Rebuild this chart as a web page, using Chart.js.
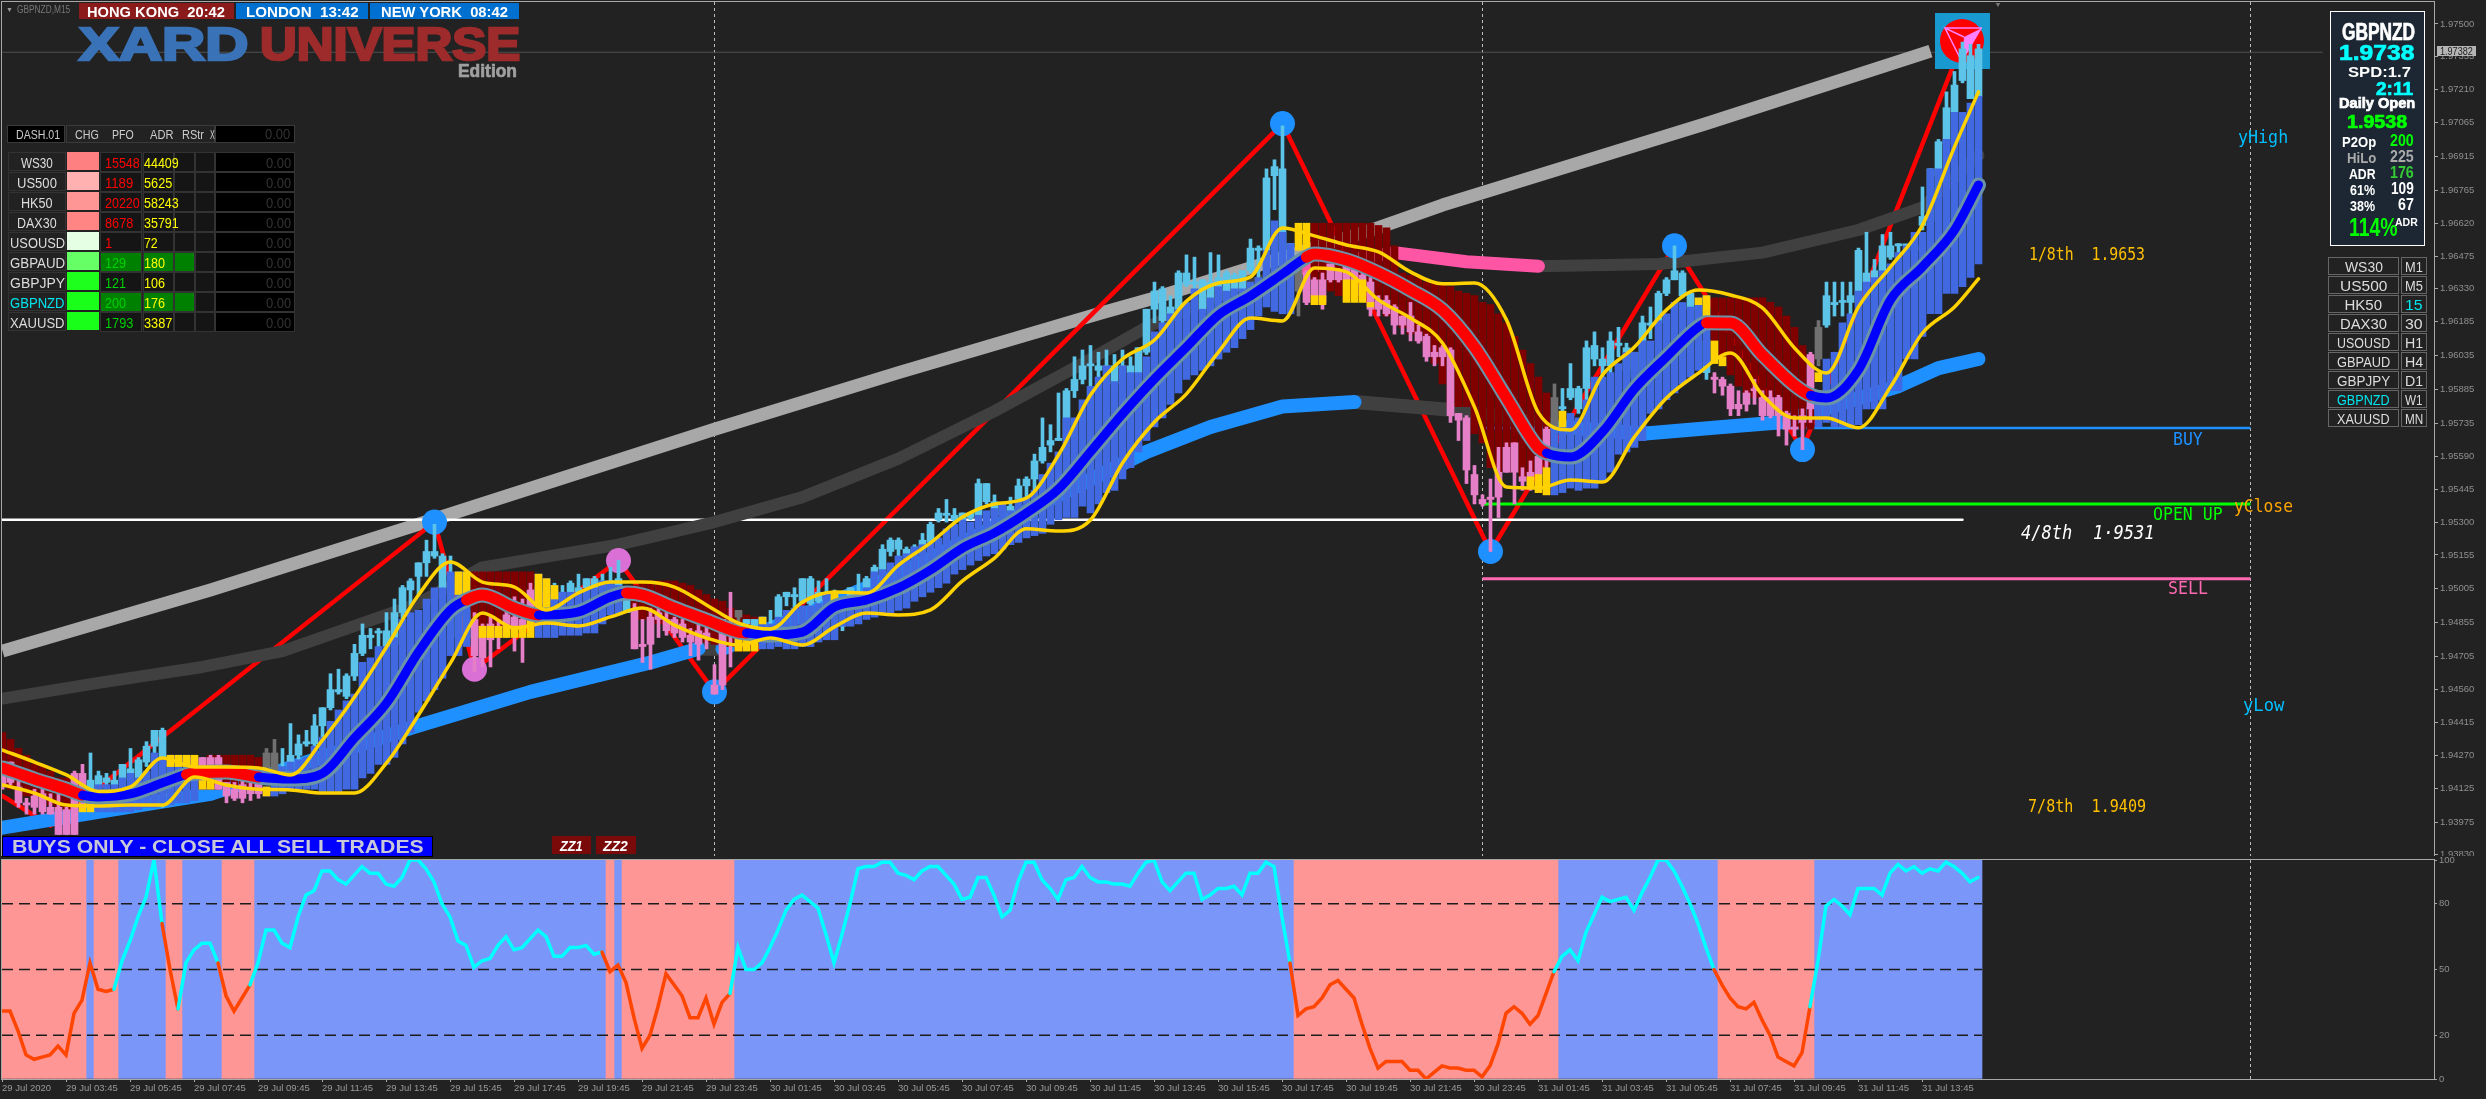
<!DOCTYPE html>
<html>
<head>
<meta charset="utf-8">
<title>GBPNZD M15</title>
<script src="https://cdn.jsdelivr.net/npm/chart.js@4/dist/chart.umd.min.js"></script>
<style>
  body { margin: 0; width: 2486px; height: 1099px; overflow: hidden; background: #222; font-family: 'Liberation Sans', sans-serif; }
  canvas { position: absolute; left: 0; }
  #overlay { position: absolute; left: 0; top: 0; width: 2486px; height: 1099px; }
  #overlay div, #overlay span { position: absolute; white-space: pre; box-sizing: border-box; }
</style>
</head>
<body>
<canvas id="mainChart" width="2486" height="856" style="top:0"></canvas>
<canvas id="oscChart" width="2486" height="243" style="top:856px"></canvas>
<div id="overlay"></div>
<script>
// Prices are kept in pips above 1.9000, so 653 is 1.9653. One bar per 15 minutes.
const bodyTop = [
  419,424,413,406,409,410,404,404,403,419, 419,416,418,417,416,423,421,425,431,438,
  438,417,418,420,426,426,426,426,415,412, 414,412,415,428,428,420,427,432,433,440,
  448,456,456,462,472,480,480,481,482,490, 501,504,512,517,517,515,503,501,491,487,
  484,485,482,489,488,487,500,501,499,498, 499,503,501,505,505,504,504,505,501,491,
  476,488,490,487,487,485,480,482,481,458, 487,485,491,487,487,488,484,497,499,498,
  505,505,499,499,499,493,501,499,505,510, 518,522,522,518,519,522,529,534,533,533,
  534,534,547,547,539,537,537,546,549,557, 563,566,567,588,593,599,599,599,599,599,
  599,599,607,624,632,633,625,640,640,636, 637,636,638,640,639,641,651,651,682,687,
  686,653,647,640,637,637,644,641,643,642, 639,636,628,628,625,621,621,614,612,605,
  607,606,578,576,551,540,541,552,563,565, 550,552,559,571,585,581,589,589,607,608,
  602,610,609,607,605,618,617,631,637,641, 640,631,625,610,594,593,590,582,587,588,
  585,585,585,578,572,577,604,616,630,627, 627,630,650,640,641,652,652,652,652,652,
  665,686,698,713,723,739,736,739];
const bodyBottom = [
  413,415,406,405,404,402,401,392,392,392, 411,412,412,415,414,416,419,415,424,431,
  409,409,415,418,415,422,420,412,409,408, 408,410,410,421,420,412,418,427,432,432,
  440,448,455,453,462,472,479,481,475,476, 490,500,506,512,515,501,501,479,479,471,
  470,478,479,483,483,483,487,487,494,495, 496,499,499,501,501,499,495,499,490,474,
  475,476,487,482,481,479,477,476,479,454, 458,482,488,485,484,484,483,488,497,497,
  495,494,495,493,497,484,493,496,497,505, 509,517,518,514,515,519,521,531,533,531,
  531,532,533,539,533,533,534,539,546,549, 557,564,566,567,588,593,599,597,598,591,
  598,596,596,605,624,619,619,624,635,635, 624,622,632,628,632,632,641,650,650,683,
  643,647,632,627,630,627,637,637,637,637, 630,624,624,622,617,617,614,610,603,603,
  603,577,575,553,542,538,540,541,552,552, 548,546,551,560,571,580,585,580,589,602,
  599,599,608,597,594,593,617,618,631,637, 630,624,619,596,593,590,580,580,582,588,
  577,577,577,571,571,574,580,602,617,626, 627,627,627,636,636,641,647,652,652,650,
  661,663,683,697,711,725,717,718];
const wickTop = [
  423,424,416,408,412,412,410,412,404,420, 423,428,420,419,420,423,430,426,433,438,
  439,425,420,422,426,426,427,427,415,415, 417,415,418,430,434,430,441,436,438,445,
  448,463,465,463,476,485,483,483,490,496, 502,505,512,522,529,516,515,502,492,490,
  485,489,487,493,497,496,503,501,504,503, 502,504,507,505,506,507,510,513,501,494,
  487,492,492,491,488,487,483,485,485,467, 487,499,491,487,487,488,491,498,499,501,
  505,506,504,505,500,493,501,507,506,511, 520,523,523,519,520,525,530,536,540,536,
  534,534,549,547,542,537,541,549,550,560, 576,573,587,589,603,606,608,605,606,604,
  606,603,607,624,636,634,630,641,648,647, 637,649,648,641,640,641,655,652,686,690,
  705,653,648,641,638,640,644,642,644,643, 640,638,630,630,626,621,627,617,613,608,
  608,607,578,577,555,542,549,563,565,565, 554,557,560,572,591,589,600,590,610,614,
  607,614,616,609,605,621,625,632,638,652, 641,632,626,610,596,594,591,588,588,593,
  588,588,586,579,577,580,605,619,636,636, 636,636,651,658,646,657,658,653,652,652,
  678,686,699,720,729,742,741,741];
const wickBottom = [
  412,414,404,401,401,401,401,392,392,392, 404,410,409,410,410,412,417,409,422,426,
  404,405,410,415,415,417,417,412,406,407, 406,407,408,419,418,410,418,425,431,431,
  435,447,454,452,460,471,474,465,474,475, 485,493,498,506,514,501,501,476,479,464,
  466,466,474,479,473,468,481,485,493,494, 491,496,495,496,499,493,489,493,490,474,
  468,465,479,480,479,477,471,469,474,454, 456,466,482,482,479,482,482,487,493,492,
  494,493,490,484,494,482,492,495,496,504, 509,515,515,513,515,518,521,530,530,530,
  531,531,532,538,532,532,533,538,537,543, 556,561,566,566,585,591,590,590,597,591,
  593,589,595,604,618,618,618,623,634,631, 623,621,632,619,614,632,640,631,649,668,
  641,630,621,626,630,624,636,636,636,636, 629,621,621,621,613,613,610,609,601,599,
  599,574,566,547,538,537,517,532,552,538, 544,544,546,552,566,574,584,578,571,599,
  588,594,603,594,593,593,611,617,630,637, 629,622,618,593,587,586,577,577,579,582,
  575,576,568,564,568,562,574,599,616,621, 621,621,627,634,635,640,646,639,641,642,
  659,663,683,697,710,724,717,717];
const pinkCandles = [[0,10],[24,32],[59,68],[79,91],[163,193],[214,226]];
const grayCandles = [33,34,92,162,194,227];

const histTop = [
  437,434,430,427,423,422,420,417,417,416, 406,406,414,414,414,417,419,417,420,428,
  426,427,427,427,426,426,427,427,427,427, 427,427,426,413,415,422,424,425,426,431,
  435,442,447,451,454,468,470,475,475,479, 487,490,491,496,501,501,508,508,508,508,
  508,508,508,508,508,508,508,507,505,502, 499,499,499,500,501,504,503,502,500,502,
  504,504,504,504,504,503,502,500,498,496, 495,492,491,489,488,488,485,488,491,492,
  493,493,494,499,499,496,497,499,501,508, 509,512,515,516,519,520,521,523,527,529,
  531,530,533,535,536,538,535,540,541,544, 551,556,561,576,576,584,590,594,599,592,
  599,596,596,603,614,618,622,624,627,633, 624,629,634,632,633,633,636,638,650,663,
  658,653,662,662,662,662,662,662,662,662, 662,662,661,660,652,640,639,638,636,636,
  635,634,632,631,630,627,626,622,618,612, 606,600,594,587,572,572,578,576,584,594,
  594,596,600,605,605,610,610,619,622,627, 627,625,629,630,629,629,629,629,629,629,
  629,627,625,621,616,608,604,587,602,605, 618,622,632,636,638,641,644,649,652,658,
  658,686,686,699,711,711,715,718];
const histBottom = [
  413,412,410,409,408,407,405,404,403,402, 402,402,402,402,402,402,402,403,404,404,
  405,405,406,406,407,412,412,412,413,413, 413,413,414,409,409,410,412,412,412,412,
  411,411,411,412,412,417,419,423,423,426, 432,437,446,451,456,461,471,471,475,484,
  484,484,484,484,484,484,487,479,479,479, 480,480,480,481,481,485,489,489,496,487,
  487,486,485,484,481,480,479,478,477,476, 475,475,473,474,474,474,474,475,474,474,
  475,475,477,478,478,484,484,485,487,488, 489,490,491,492,495,497,499,501,503,507,
  509,511,513,515,516,518,520,521,523,524, 525,529,531,532,532,537,534,538,543,544,
  549,554,561,566,572,576,582,587,593,595, 597,599,602,605,607,611,615,621,625,623,
  622,622,650,650,637,635,632,630,629,629, 628,626,624,621,619,616,613,610,606,600,
  591,581,581,581,569,565,554,552,553,552, 550,550,552,555,542,543,545,544,545,545,
  548,552,560,561,563,566,578,580,584,587, 591,594,597,599,603,603,595,590,587,585,
  581,581,578,574,572,571,571,572,574,572, 572,572,573,580,580,580,588,588,602,602,
  612,622,622,631,631,634,638,644];
const redHistBars = [[0,9],[25,32],[59,66],[79,94],[164,193],[214,226]];
const yellowHistBars = [10,11,162,163];

// short yellow pieces that sit at the ends of the bars
const yellowBars = [21,22,23,24,25,26,33,57,58,60,61,62,63,64,65,66,67,68,69,92,93,94,95,104,164,165,168,169,170,171,191,192,193,195,212,213,214,215,227];
const yellowTop = [427,427,427,427,417,417,413,508,508,484,484,484,484,484,484,487,507,505,502,479,479,479,488,499,630,630,637,637,637,627,550,551,554,579,629,630,610,603,596];
const yellowBottom = [422,422,422,422,412,412,409,498,498,479,479,479,479,479,479,479,492,492,496,473,473,473,485,494,626,626,627,627,627,625,545,543,542,572,626,621,600,599,592];

const bandBars = [0,4,8,12,16,20,24,28,32,36,40,44,48,52,56,60,64,68,72,76,80,84,88,92,96,100,104,108,112,116,120,124,128,132,136,140,144,148,152,156,160,164,168,172,176,180,184,188,192,196,200,204,208,212,216,220,224,228,232,236,240,244,247];
const bandUpper = [429.3,424,418.3,411,413,425.8,421.8,421.8,421.4,418.3,433.7,452.7,474.8,497.8,512.4,503.5,501.3,491.2,498.7,503.5,503.5,501.3,493.4,485.4,482.8,494.7,499.1,498.7,511,520.8,532.2,538,540.6,559.6,586.1,602,610.4,627.6,635.6,638.3,659.9,656.4,652.4,649.3,640.5,635.2,635.6,619.3,578.2,570.7,595,607.3,623.7,632.5,630.3,624.6,606.9,595.8,625,642.7,661.2,695.7,720];
const bandLower = [413.9,410.3,405,404.6,405,405,417.4,413.9,412,411.7,410.3,410.3,423.6,444.8,467.8,489.8,483.2,485.4,484.1,488.1,492,484.5,478.8,475.7,478.8,475.7,483.7,489.8,489,491.2,504,514.1,527,526,530.9,556.1,574.2,586.6,605.1,620.1,618.8,642.2,640.5,628.1,620.1,609.1,580.8,545.5,545,548.6,547.7,567.6,584.8,595.8,604.7,586.1,576,576,571.6,589.7,613.5,625,637.4];

const midBars = [0,4,8,10,12,16,20,23,24,28,32,36,40,44,48,52,56,58,60,64,67,68,72,76,78,80,84,88,92,93,96,100,104,108,112,116,120,124,128,132,136,140,144,148,152,156,160,163,164,168,172,176,180,184,188,192,193,196,200,204,208,212,213,216,220,224,226,228,232,236,240,244,247];
const midValues = [421.4,416.5,412,409.4,408.6,409.9,414.8,418.5,419,419.6,417.4,416.5,419,434.6,450,472.6,491.2,495.6,497.8,492,489,489,490.3,496.9,498.7,497.8,492,486.7,481.4,481,480.1,481.4,492.5,495.6,500.9,508.8,518.5,525.2,534,544.6,561,577.7,593.2,607.3,621.5,629.9,639.6,647,648.4,645.8,640,632.5,623.7,607.3,584.8,562.7,560.5,558.7,569.8,588.8,602.9,616.2,618,617.9,603.8,590.5,586,584.8,597.2,628.1,642.7,659,678.9];
const midRedRuns = [[0,10],[23,32],[58,67],[78,93],[163,193],[213,226]];

// slow averages
const slowGrayBars = [0,26,52,89,112,137,144,172,180,213,241];
const slowGrayValues = [473,500,529,571,596,622,629,660,670,706,738];
const midGrayBars = [0,12,25,35,52,60,77,89,100,112,124,135,143,152,162];
const midGrayValues = [452,459,466,473,494,510,520,530,541,558,579,600,616,630,642];
const midPinkBars = [162,174,183,192];
const midPinkValues = [642,649,645,643];
const midGray2Bars = [192,207,220,232,240,247];
const midGray2Values = [643,644,649,659,669,692];
const fastBlueBars = [0,12,26,51,66,81,87];
const fastBlueValues = [395,402,410,439,455,468,474];
const fastGrayBars = [87,90];
const fastGrayValues = [474,474];
const fastBlue2Bars = [90,112,135,143,151,160,169];
const fastBlue2Values = [474,507,547,561,572,581,583];
const fastGray2Bars = [169,183,195];
const fastGray2Values = [583,579,572];
const fastBlue3Bars = [195,205,215,222,237,242,247];
const fastBlue3Values = [572,569,572,574,590,598,602];

const zigzagBars = [0,6,54,59,77,89,160,186,209,225,245];
const zigzagValues = [409,396,530,465,513,455,706,517,652,562,742];
const blueDotBars = [54,89,160,186,209,225];
const blueDotValues = [530,455,706,517,652,562];
const pinkDotBars = [59,77];
const pinkDotValues = [465,513];

const priceLine = 737.5;
const fourEighthLine = 531;
const buyLine = 571.5;
const openLine = 538;
const sellLine = 505;
const separatorBars = [89,185,281];

const priceTicks = ['1.97500','1.97355','1.97210','1.97065','1.96915','1.96765','1.96620','1.96475','1.96330','1.96185','1.96035','1.95885','1.95735','1.95590','1.95445','1.95300','1.95155','1.95005','1.94855','1.94705','1.94560','1.94415','1.94270','1.94125','1.93975','1.93830'];

// lower window
const oscValues = [
  31,31,22,11,9,10,11,15,11,30, 36,53,41,40,41,54,63,74,83,100,
  71,50,32,53,59,62,62,53,38,31, 37,43,53,68,68,62,60,74,84,86,
  95,95,91,89,93,97,94,94,89,88, 92,100,100,96,90,80,74,63,61,51,
  54,55,61,65,59,60,64,68,65,56, 56,60,60,61,57,58,49,52,44,28,
  14,20,33,48,43,38,28,28,37,25, 35,39,60,50,50,53,60,68,77,82,
  84,81,78,66,53,66,80,96,97,97, 99,99,94,93,91,95,97,97,93,89,
  82,83,92,92,84,74,77,90,99,99, 91,87,82,91,92,97,92,90,90,89,
  89,88,94,99,100,90,86,90,94,94, 82,84,87,87,88,84,94,94,99,97,
  74,53,29,32,33,37,43,45,41,37, 25,14,5,8,8,8,4,4,0,3,
  6,5,5,4,4,1,6,16,30,33, 30,25,29,39,49,56,59,54,67,75,
  83,81,82,83,77,85,92,100,100,95, 88,80,71,60,50,43,37,33,32,35,
  27,20,10,8,6,12,33,54,79,82, 79,75,87,87,87,84,94,98,95,97,
  94,96,95,99,97,94,90,92];
const oscRedRuns = [[0,10],[11,14],[20,22],[27,31],[75,76],[77,91],[161,194],[214,226]];
const zoneRedRuns = [[0,10],[12,14],[21,22],[28,31],[76,76],[78,91],[162,194],[215,226]];
const oscLevels = [80,50,20];
const oscTicks = [100,80,50,20,0];

const timeBars = [0,8,16,24,32,40,48,56,64,72,80,88,96,104,112,120,128,136,144,152,160,168,176,184,192,200,208,216,224,232,240];
const timeLabels = ['29 Jul 2020','29 Jul 03:45','29 Jul 05:45','29 Jul 07:45','29 Jul 09:45','29 Jul 11:45','29 Jul 13:45','29 Jul 15:45','29 Jul 17:45','29 Jul 19:45','29 Jul 21:45','29 Jul 23:45','30 Jul 01:45','30 Jul 03:45','30 Jul 05:45','30 Jul 07:45','30 Jul 09:45','30 Jul 11:45','30 Jul 13:45','30 Jul 15:45','30 Jul 17:45','30 Jul 19:45','30 Jul 21:45','30 Jul 23:45','31 Jul 01:45','31 Jul 03:45','31 Jul 05:45','31 Jul 07:45','31 Jul 09:45','31 Jul 11:45','31 Jul 13:45'];

// dashboard tables
const dashSymbols = ['WS30','US500','HK50','DAX30','USOUSD','GBPAUD','GBPJPY','GBPNZD','XAUUSD'];
const dashPfo = ['15548','1189','20220','8678','1','129','121','200','1793'];
const dashAdr = ['44409','5625','58243','35791','72','180','106','176','3387'];
const dashSwatch = ['#ff8080','#ffb0b0','#ff9696','#ff8585','#e4ffe4','#66ff66','#1eff1e','#1aff1a','#1aff1a'];
const tfLabels = ['M1','M5','15','30','H1','H4','D1','W1','MN'];

const AXIS_FONT = "'Liberation Sans', sans-serif";
const UP = '#5bc4e8', DOWN = '#e57fc8', FLAT = '#707070';
const HIST_BLUE = '#4169e1', HIST_RED = '#800000', GOLD = '#ffd200';

function inRuns(i, runs) {
  return runs.some(r => i >= r[0] && i <= r[1]);
}

function points(bars, values) {
  return bars.map((x, i) => ({ x: x, y: values[i] }));
}

function lineSet(data, color, width, order, extra) {
  return Object.assign({
    type: 'line', data: data, borderColor: color, borderWidth: width, order: order,
    pointRadius: 0, fill: false, borderCapStyle: 'round', borderJoinStyle: 'round'
  }, extra || {});
}

function barSet(data, colors, width, order) {
  return {
    type: 'bar', data: data, backgroundColor: colors, order: order, grouped: false,
    barThickness: width, maxBarThickness: width, borderWidth: 0, minBarLength: 2
  };
}

function dotSet(data, color, radius, order, style) {
  return {
    type: 'line', data: data, showLine: false, order: order, pointRadius: radius,
    pointBackgroundColor: color, pointBorderWidth: 0, pointStyle: style || 'circle', clip: false
  };
}

function candleColor(i) {
  if (grayCandles.includes(i)) return FLAT;
  return inRuns(i, pinkCandles) ? DOWN : UP;
}

function buildLogo() {
  const c = document.createElement('canvas');
  c.width = 55; c.height = 56;
  const g = c.getContext('2d');
  g.fillStyle = '#189ad0'; g.fillRect(0, 0, 55, 56);
  g.fillStyle = '#ff0000'; g.beginPath(); g.arc(27, 28, 22, 0, Math.PI * 2); g.fill();
  g.fillStyle = '#ff80ff'; g.beginPath(); g.moveTo(47, 15); g.lineTo(27, 49); g.lineTo(29, 24); g.fill();
  g.strokeStyle = '#ff80ff'; g.lineWidth = 1.5; g.beginPath();
  g.moveTo(29, 24); g.lineTo(10, 15); g.lineTo(27, 49); g.moveTo(10, 15); g.lineTo(47, 15); g.stroke();
  return c;
}

// the axis boxes would otherwise push the plot in by half a label
function fixAxisWidth(s) {
  s.width = 52;
  s.paddingTop = 0;
  s.paddingBottom = 0;
}

// dotted day separators behind the marks, frame on top of them
const chromePlugin = {
  id: 'chrome',
  beforeDatasetsDraw(chart) {
    const { ctx, chartArea, scales } = chart;
    ctx.save();
    ctx.strokeStyle = '#bdbdbd'; ctx.lineWidth = 1; ctx.setLineDash([3, 3]);
    separatorBars.forEach(b => {
      const x = Math.round(scales.x.getPixelForValue(b)) + 0.5;
      ctx.beginPath(); ctx.moveTo(x, chartArea.top); ctx.lineTo(x, chartArea.bottom); ctx.stroke();
    });
    ctx.restore();
  },
  afterDraw(chart) {
    const { ctx, chartArea } = chart;
    ctx.save();
    ctx.strokeStyle = '#a8a8a8'; ctx.lineWidth = 1;
    ctx.strokeRect(chartArea.left - 0.5, chartArea.top - 0.5, chartArea.right - chartArea.left + 1, chartArea.bottom - chartArea.top + 1);
    ctx.restore();
  }
};

function createMainChart() {
  const allBars = bodyTop.map((v, i) => i);
  const monotone = { cubicInterpolationMode: 'monotone' };
  const backHist = allBars.filter(i => inRuns(i, redHistBars) || yellowHistBars.includes(i));
  const blueHist = allBars.filter(i => !backHist.includes(i));

  new Chart(document.getElementById('mainChart'), {
    data: {
      datasets: [
        lineSet(points([0, 290], [priceLine, priceLine]), '#505050', 1, 40),
        lineSet(points(slowGrayBars, slowGrayValues), '#a8a8a8', 13, 30, { borderCapStyle: 'butt' }),
        lineSet(points(zigzagBars, zigzagValues), '#ff0000', 4.5, 29, { borderJoinStyle: 'miter' }),
        lineSet(points([0, 245], [fourEighthLine, fourEighthLine]), '#ffffff', 2.5, 28),
        lineSet(points(midGrayBars, midGrayValues), '#404040', 12, 27),
        lineSet(points(midGray2Bars, midGray2Values), '#404040', 12, 27),
        lineSet(points(midPinkBars, midPinkValues), '#ff55a5', 13, 26),
        lineSet(points(fastGrayBars, fastGrayValues), '#404040', 14, 25),
        lineSet(points(fastGray2Bars, fastGray2Values), '#404040', 14, 25),
        lineSet(points(fastBlueBars, fastBlueValues), '#1e90ff', 14, 24),
        lineSet(points(fastBlue2Bars, fastBlue2Values), '#1e90ff', 14, 24),
        lineSet(points(fastBlue3Bars, fastBlue3Values), '#1e90ff', 14, 24),
        lineSet(points([185, 281], [buyLine, buyLine]), '#1e90ff', 2.5, 23, { borderCapStyle: 'butt' }),
        lineSet(points([185, 281], [openLine, openLine]), '#00ff00', 3, 23, { borderCapStyle: 'butt' }),
        lineSet(points([185, 281], [sellLine, sellLine]), '#ff69b4', 3, 23, { borderCapStyle: 'butt' }),
        dotSet(points(blueDotBars, blueDotValues), '#1e90ff', 12.5, 22),
        dotSet(points(pinkDotBars, pinkDotValues), '#da70d6', 12.5, 22),
        dotSet(points([245], [742.5]), '#ffffff', 20, 21, buildLogo()),
        barSet(backHist.map(i => ({ x: i, y: [histBottom[i], histTop[i]] })),
          backHist.map(i => yellowHistBars.includes(i) ? GOLD : HIST_RED), 7, 12),
        barSet(allBars.map(i => ({ x: i, y: [wickBottom[i], wickTop[i]] })), allBars.map(candleColor), 3, 11),
        barSet(allBars.map(i => ({ x: i, y: [bodyBottom[i], bodyTop[i]] })), allBars.map(candleColor), 7, 10),
        barSet(blueHist.map(i => ({ x: i, y: [histBottom[i], histTop[i]] })), HIST_BLUE, 7, 9),
        barSet(yellowBars.map((b, i) => ({ x: b, y: [yellowBottom[i], yellowTop[i]] })), GOLD, 7, 8),
        lineSet(points(midBars, midValues), '#6b93a8', 15, 7, monotone),
        lineSet(points(midBars, midValues), '#0000ff', 9, 6, Object.assign({
          segment: {
            borderColor: c => inRuns(c.p0.parsed.x, midRedRuns) && inRuns(c.p1.parsed.x, midRedRuns) ? '#ff0000' : '#0000ff',
            borderWidth: c => inRuns(c.p0.parsed.x, midRedRuns) && inRuns(c.p1.parsed.x, midRedRuns) ? 11 : 9
          }
        }, monotone)),
        lineSet(points(bandBars, bandUpper), GOLD, 3.5, 5, monotone),
        lineSet(points(bandBars, bandLower), GOLD, 3.5, 5, monotone)
      ]
    },
    options: {
      responsive: false, animation: false, devicePixelRatio: 1, events: [],
      layout: { autoPadding: false, padding: { left: 2, top: 2, right: 0, bottom: 0 } },
      plugins: { legend: { display: false }, tooltip: { enabled: false } },
      scales: {
        x: { type: 'linear', min: -0.0625, max: 303.94, offset: false, display: false, grid: { display: false } },
        y: {
          position: 'right', min: 382.5, max: 759.7,
          afterFit: fixAxisWidth,
          afterBuildTicks: s => { s.ticks = priceTicks.map(t => ({ value: (parseFloat(t) - 1.9) * 1e4 })); },
          border: { color: '#a8a8a8' },
          grid: { drawOnChartArea: false, color: '#a8a8a8', tickLength: 4 },
          ticks: {
            autoSkip: false, padding: 2, color: '#8f8f8f', font: { family: AXIS_FONT, size: 9.5 },
            callback: v => (1.9 + v / 1e4).toFixed(5)
          }
        }
      }
    },
    plugins: [chromePlugin]
  });
}

function createOscChart() {
  const allBars = oscValues.map((v, i) => i);
  const red = allBars.filter(i => inRuns(i, zoneRedRuns));
  const blue = allBars.filter(i => !inRuns(i, zoneRedRuns));
  const levels = oscLevels.map(l => lineSet(points([0, 247.5], [l, l]), '#1c1c1c', 1.5, 3, { borderDash: [11, 6], borderCapStyle: 'butt' }));

  new Chart(document.getElementById('oscChart'), {
    data: {
      datasets: [
        barSet(red.map(i => ({ x: i, y: [0, 100] })), '#fe9696', 8, 10),
        barSet(blue.map(i => ({ x: i, y: [0, 100] })), '#7a96f8', 8, 10),
        ...levels,
        lineSet(points(allBars, oscValues), '#00ffff', 3.5, 1, {
          borderJoinStyle: 'miter',
          segment: { borderColor: c => inRuns(c.p0.parsed.x, oscRedRuns) && inRuns(c.p1.parsed.x, oscRedRuns) ? '#ff4500' : '#00ffff' }
        })
      ]
    },
    options: {
      responsive: false, animation: false, devicePixelRatio: 1, events: [],
      layout: { autoPadding: false, padding: { left: 2, top: 4, right: 0, bottom: 0 } },
      plugins: { legend: { display: false }, tooltip: { enabled: false } },
      scales: {
        x: {
          type: 'linear', min: 0, max: 304, offset: false,
          afterFit: s => { s.height = 20; s.paddingLeft = 0; s.paddingRight = 0; },
          afterBuildTicks: s => { s.ticks = timeBars.map(b => ({ value: b })); },
          border: { color: '#a8a8a8' },
          grid: { drawOnChartArea: false, color: '#a8a8a8', tickLength: 3, offset: false },
          ticks: {
            autoSkip: false, maxRotation: 0, align: 'start', padding: 1, color: '#9a9a9a',
            font: { family: AXIS_FONT, size: 9.5 },
            callback: v => timeLabels[timeBars.indexOf(v)]
          }
        },
        y: {
          position: 'right', min: 0, max: 100,
          afterFit: fixAxisWidth,
          afterBuildTicks: s => { s.ticks = oscTicks.map(t => ({ value: t })); },
          border: { color: '#a8a8a8' },
          grid: { drawOnChartArea: false, color: '#a8a8a8', tickLength: 3 },
          ticks: { autoSkip: false, padding: 2, color: '#8f8f8f', font: { family: AXIS_FONT, size: 9.5 } }
        }
      }
    },
    plugins: [chromePlugin]
  });
}

// overlay helpers, every label is squeezed to the width it has in the screenshot
const overlay = document.getElementById('overlay');

function box(x, y, w, h, bg, border) {
  const d = document.createElement('div');
  d.style.cssText = `left:${x}px;top:${y}px;width:${w}px;height:${h}px;background:${bg};` + (border ? `border:1px solid ${border};` : '');
  overlay.appendChild(d);
}

function label(text, x, cy, w, size, color, style) {
  const s = document.createElement('span');
  s.textContent = text;
  s.style.cssText = `left:${x}px;top:${cy}px;font-size:${size}px;color:${color};line-height:1;transform-origin:left center;` + (style || '');
  overlay.appendChild(s);
  const k = w / s.offsetWidth;
  s.style.transform = `translateY(-50%) scaleX(${k})`;
}

function drawDashboard() {
  const bold = 'font-weight:bold;';
  const heavy = 'font-weight:bold;-webkit-text-stroke:0.7px;';
  const logo = 'font-weight:bold;-webkit-text-stroke:2.5px;';
  const mono = "font-family:'DejaVu Sans Mono',monospace;";

  // sessions and logo
  label('\u25BC', 6, 9, 7, 7, '#999');
  label('GBPNZD,M15', 17, 9, 53, 11, '#777');
  box(79, 3, 155, 16, '#8b1a1a');
  box(236, 3, 132, 16, '#0070d0');
  box(370, 3, 149, 16, '#0070d0');
  label('HONG KONG  20:42', 87, 11, 138, 15, '#fff', bold);
  label('LONDON  13:42', 246, 11, 113, 15, '#fff', bold);
  label('NEW YORK  08:42', 381, 11, 127, 15, '#fff', bold);
  label('XARD', 79, 44, 169, 46, '#3a72b8', logo);
  label('UNIVERSE', 260, 44, 260, 46, '#9e2b2b', logo);
  label('Edition', 458, 71, 59, 18, '#a0a0a0', heavy);

  // left table
  box(7, 125, 58, 18, '#000', '#3a3a3a');
  box(66, 125, 149, 18, '#222', '#3a3a3a');
  box(215, 125, 80, 18, '#000', '#3a3a3a');
  label('DASH.01', 16, 134, 44, 13, '#ccc');
  label('CHG', 75, 134, 24, 13, '#ccc');
  label('PFO', 112, 134, 22, 13, '#ccc');
  label('ADR', 150, 134, 23, 13, '#ccc');
  label('RStr', 182, 134, 22, 13, '#ccc');
  label('X', 210, 134, 5, 13, '#ccc');
  label('0.00', 265, 134, 25, 14, '#333');
  dashSymbols.forEach((name, i) => {
    const y = 152 + i * 20;
    const rowBg = (name === 'GBPAUD' || name === 'GBPNZD') ? '#008000' : '#151515';
    box(8, y, 58, 19, '#222', '#333');
    box(67, y, 32, 18, dashSwatch[i]);
    box(100, y, 42, 20, rowBg, '#333');
    box(143, y, 31, 20, rowBg, '#333');
    box(174, y, 21, 20, rowBg, '#333');
    box(195, y, 20, 20, '#151515', '#333');
    box(215, y, 80, 20, '#000', '#333');
    const nameW = name.length > 5 ? 55 : name.length * 8;
    label(name, 37 - nameW / 2, y + 10, nameW, 15, name === 'GBPNZD' ? '#00e5ee' : '#ddd');
    label(dashPfo[i], 105, y + 10, dashPfo[i].length * 7, 15, i < 5 ? '#ff0000' : '#00d000');
    label(dashAdr[i], 144, y + 10, dashAdr[i].length * 7, 15, '#ffff00');
    label('0.00', 266, y + 10, 25, 15, '#333');
  });

  // banner and zigzag buttons
  box(2, 836, 431, 21, '#0000ff', '#000');
  label('BUYS ONLY - CLOSE ALL SELL TRADES', 12, 847, 412, 18, '#c8c8d8', bold);
  box(552, 836, 39, 18, '#7a0a0a');
  box(596, 836, 40, 18, '#7a0a0a');
  label('ZZ1', 560, 845, 23, 15, '#fff', bold + 'font-style:italic;');
  label('ZZ2', 603, 845, 25, 15, '#fff', bold + 'font-style:italic;');

  // levels on the right
  label('yHigh', 2238, 137, 50, 18, '#00bfff', mono);
  label('1/8th  1.9653', 2029, 254, 116, 17, '#ffc000', mono);
  label('BUY', 2173, 439, 30, 17, '#1e90ff', mono);
  label('yClose', 2234, 506, 59, 18, '#ffa500', mono);
  label('OPEN UP', 2153, 514, 70, 17, '#00ff00', mono);
  label('4/8th  1\u00B79531', 2021, 532, 134, 20, '#ffffff', mono + 'font-style:italic;');
  label('SELL', 2168, 588, 40, 17, '#ff69b4', mono);
  label('yLow', 2243, 705, 41, 18, '#00bfff', mono);
  label('7/8th  1.9409', 2028, 806, 118, 17, '#ffc000', mono);

  // info box
  box(2330, 11, 95, 235, '#1c2733', '#ffffff');
  label('GBPNZD', 2342, 32, 73, 23, '#fff', heavy);
  label('1.9738', 2339, 53, 75, 22, '#00ffff', heavy);
  label('SPD:1.7', 2348, 72, 63, 14, '#fff', bold);
  label('2:11', 2376, 88, 37, 19, '#00ffff', heavy);
  label('Daily Open', 2339, 103, 76, 14, '#fff', heavy);
  label('1.9538', 2347, 122, 60, 18, '#00ff00', heavy);
  label('P2Op', 2342, 141, 34, 15, '#fff', bold);
  label('200', 2390, 141, 24, 16, '#00ff00', bold);
  label('HiLo', 2347, 157, 29, 15, '#aaa', bold);
  label('225', 2390, 157, 24, 16, '#aaa', bold);
  label('ADR', 2349, 173, 27, 15, '#fff', bold);
  label('176', 2390, 173, 24, 16, '#33cc33', bold);
  label('61%', 2350, 189, 25, 15, '#fff', bold);
  label('109', 2391, 189, 23, 16, '#fff', bold);
  label('38%', 2350, 205, 25, 15, '#fff', bold);
  label('67', 2398, 205, 16, 16, '#fff', bold);
  label('114%', 2349, 227, 49, 25, '#00ff00', bold);
  label('ADR', 2395, 222, 23, 11, '#fff', bold);

  // symbol and timeframe buttons
  dashSymbols.forEach((name, i) => {
    const y = 257 + i * 19;
    box(2328, y, 71, 18, '#222', '#666');
    box(2401, y, 26, 18, '#222', '#666');
    const w = name.length > 5 ? 53 : name.length * 9.5;
    label(name, 2363.5 - w / 2, y + 9, w, 15, name === 'GBPNZD' ? '#00e5ee' : '#ddd');
    const tf = tfLabels[i];
    const tw = tf.length * 9;
    label(tf, 2414 - tw / 2, y + 9, tw, 15, tf === '15' ? '#00e5ee' : '#ddd');
  });

  // current price tag and the small shift marker
  box(2437, 46, 39, 10, '#b4b4b4');
  label('1.97382', 2440, 51, 33, 11, '#222');
  label('\u25BC', 1994, 4, 8, 7, '#777');
}

createMainChart();
createOscChart();
drawDashboard();
</script>
</body>
</html>
